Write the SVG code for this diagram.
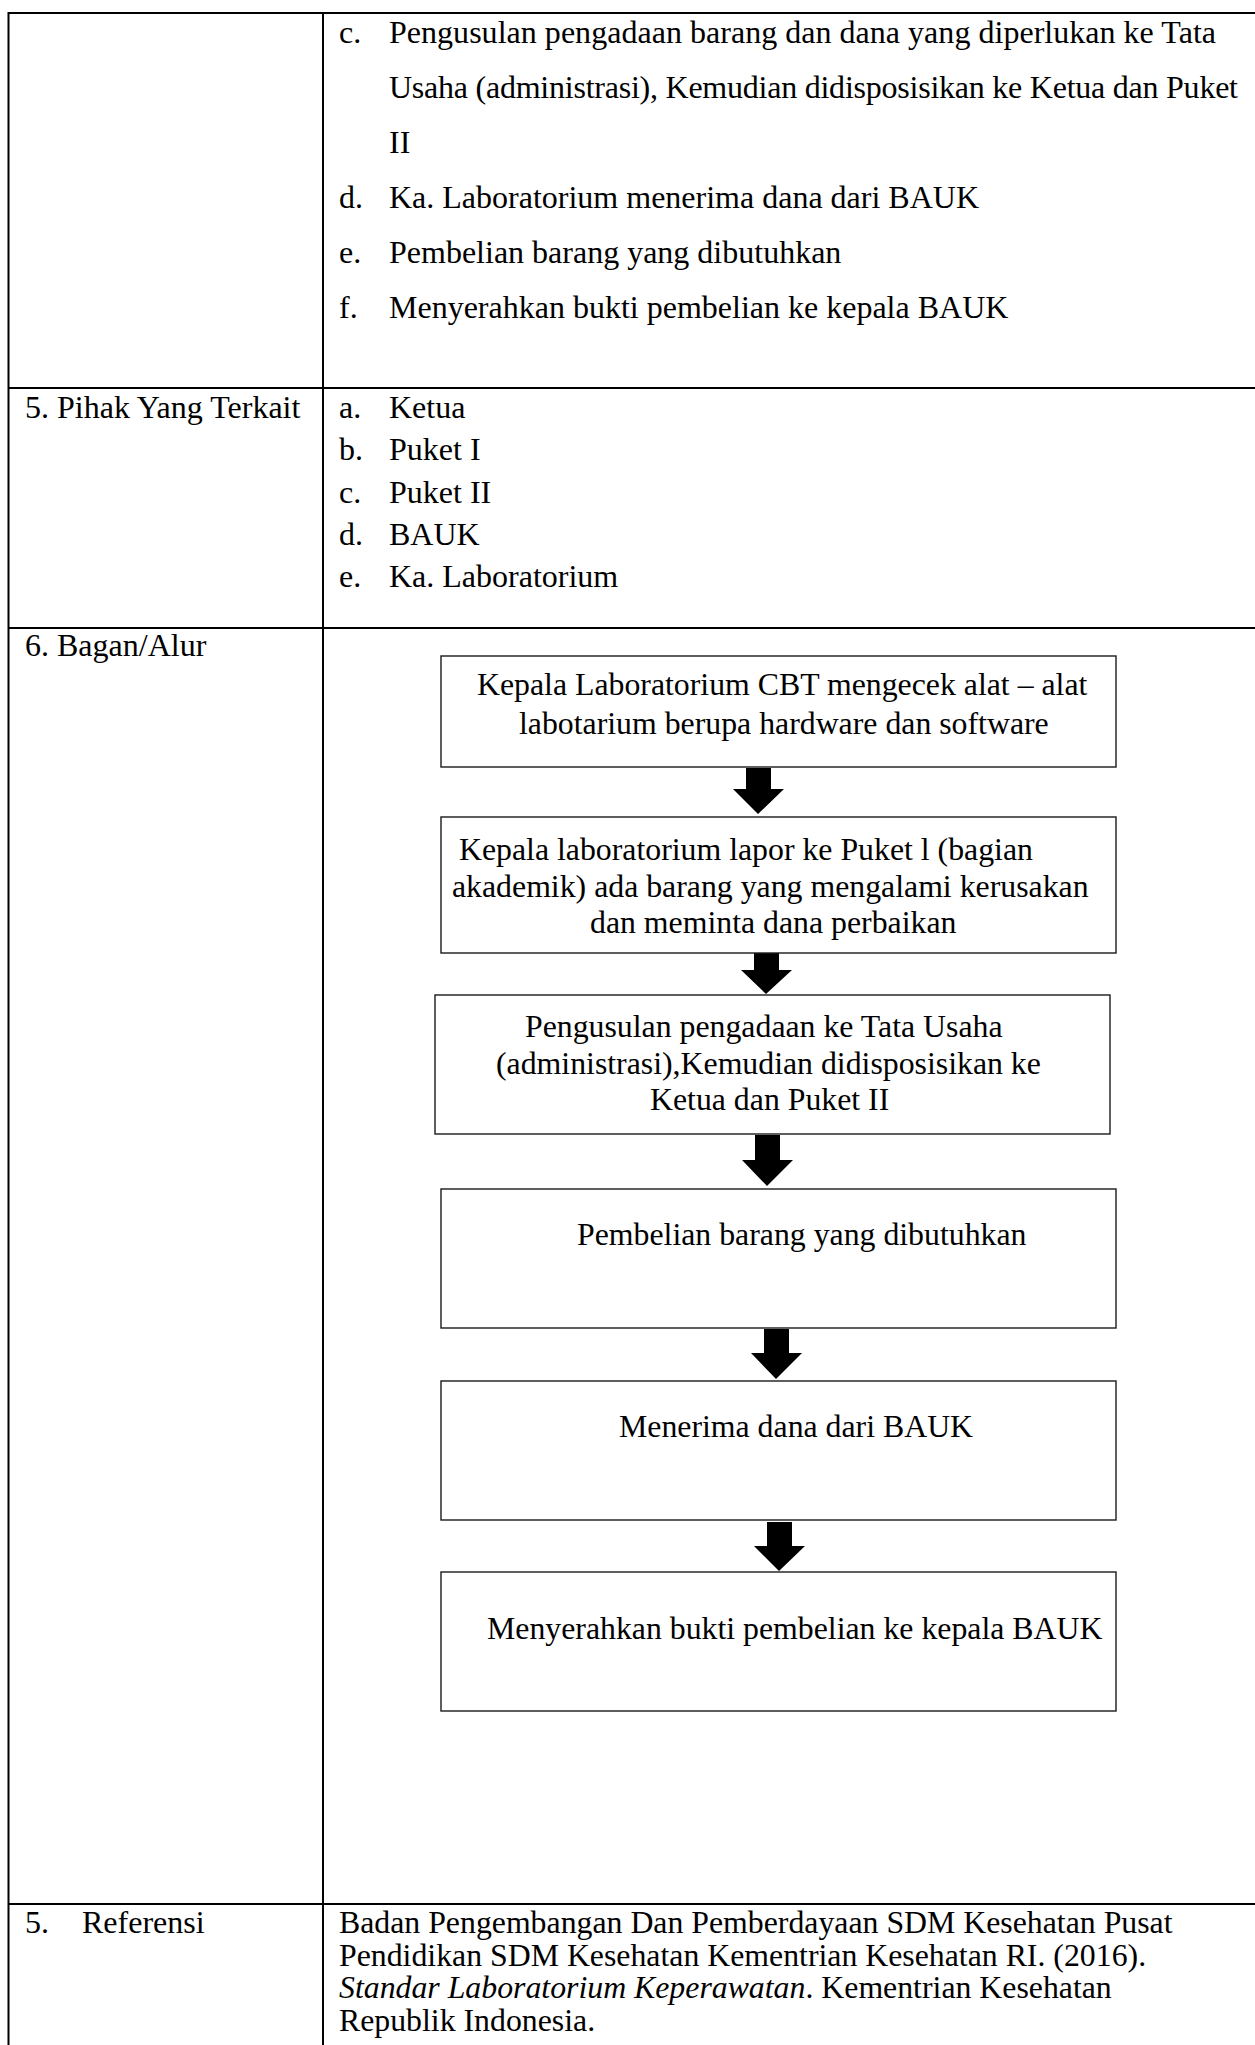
<svg xmlns="http://www.w3.org/2000/svg" width="1255" height="2045" viewBox="0 0 1255 2045">
<style>
  text { font-family: "Liberation Serif", "Times New Roman", serif; font-size: 31.8px; fill: #000; }
  .t { font-size: 32px; }
  .grid { stroke: #000; stroke-width: 2; fill: none; }
  .box { fill: #fff; stroke: #1a1a1a; stroke-width: 1.4; }
  .arrow { fill: #000; stroke: none; }
  .it { font-style: italic; }
</style>
<rect x="0" y="0" width="1255" height="2045" fill="#fff"/>

<g id="table">
  <line class="grid" x1="8.5" y1="13" x2="1255" y2="13"/>
  <line class="grid" x1="8.5" y1="12" x2="8.5" y2="2045"/>
  <line class="grid" x1="323" y1="12" x2="323" y2="2045"/>
  <line class="grid" x1="8.5" y1="388" x2="1255" y2="388"/>
  <line class="grid" x1="8.5" y1="628" x2="1255" y2="628"/>
  <line class="grid" x1="8.5" y1="1904" x2="1255" y2="1904"/>
</g>

<g id="row-prosedur">
  <text class="t" x="339" y="43">c.</text>
  <text class="t" x="389" y="43" textLength="827" lengthAdjust="spacing">Pengusulan pengadaan barang dan dana yang diperlukan ke Tata</text>
  <text class="t" x="389" y="98" textLength="849" lengthAdjust="spacing">Usaha (administrasi), Kemudian didisposisikan ke Ketua dan Puket</text>
  <text class="t" x="389" y="153">II</text>
  <text class="t" x="339" y="208">d.</text>
  <text class="t" x="389" y="208">Ka. Laboratorium menerima dana dari BAUK</text>
  <text class="t" x="339" y="263">e.</text>
  <text class="t" x="389" y="263">Pembelian barang yang dibutuhkan</text>
  <text class="t" x="339" y="318">f.</text>
  <text class="t" x="389" y="318">Menyerahkan bukti pembelian ke kepala BAUK</text>
</g>

<g id="row-pihak">
  <text class="t" x="25" y="418">5. Pihak Yang Terkait</text>
  <text class="t" x="339" y="418">a.</text>
  <text class="t" x="389" y="418">Ketua</text>
  <text class="t" x="339" y="460">b.</text>
  <text class="t" x="389" y="460">Puket I</text>
  <text class="t" x="339" y="503">c.</text>
  <text class="t" x="389" y="503">Puket II</text>
  <text class="t" x="339" y="545">d.</text>
  <text class="t" x="389" y="545">BAUK</text>
  <text class="t" x="339" y="587">e.</text>
  <text class="t" x="389" y="587">Ka. Laboratorium</text>
</g>

<g id="row-bagan">
  <text class="t" x="25" y="656">6. Bagan/Alur</text>
</g>

<g id="connectors">
  <path class="arrow" d="M746,768 h25 v21 h13 L758,814 L733,789 h13 z"/>
  <path class="arrow" d="M754,947 h25 v23 h13 L766,994 L741,970 h13 z"/>
  <path class="arrow" d="M755,1135 h25 v25 h13 L767,1186 L742,1160 h13 z"/>
  <path class="arrow" d="M764,1329 h25 v24 h13 L776,1379 L751,1353 h13 z"/>
  <path class="arrow" d="M767,1522 h25 v24 h13 L779,1571 L754,1546 h13 z"/>
</g>

<g id="node1">
  <rect class="box" x="441" y="656" width="675" height="111"/>
  <text x="477" y="695">Kepala Laboratorium CBT mengecek alat – alat</text>
  <text x="519" y="734">labotarium berupa hardware dan software</text>
</g>

<g id="node2">
  <rect class="box" x="441" y="817" width="675" height="136"/>
  <text x="459" y="860">Kepala laboratorium lapor ke Puket l (bagian</text>
  <text x="452" y="897">akademik) ada barang yang mengalami kerusakan</text>
  <text x="590" y="933">dan meminta dana perbaikan</text>
</g>

<g id="node3">
  <rect class="box" x="435" y="995" width="675" height="139"/>
  <text x="525" y="1037">Pengusulan pengadaan ke Tata Usaha</text>
  <text x="496" y="1074">(administrasi),Kemudian didisposisikan ke</text>
  <text x="650" y="1110">Ketua dan Puket II</text>
</g>

<g id="node4">
  <rect class="box" x="441" y="1189" width="675" height="139"/>
  <text x="577" y="1245">Pembelian barang yang dibutuhkan</text>
</g>

<g id="node5">
  <rect class="box" x="441" y="1381" width="675" height="139"/>
  <text x="619" y="1437">Menerima dana dari BAUK</text>
</g>

<g id="node6">
  <rect class="box" x="441" y="1572" width="675" height="139"/>
  <text x="487" y="1639">Menyerahkan bukti pembelian ke kepala BAUK</text>
</g>

<g id="row-referensi">
  <text class="t" x="25" y="1933">5.</text>
  <text class="t" x="82" y="1933">Referensi</text>
  <text x="339" y="1933">Badan Pengembangan Dan Pemberdayaan SDM Kesehatan Pusat</text>
  <text x="339" y="1966">Pendidikan SDM Kesehatan Kementrian Kesehatan RI. (2016).</text>
  <text x="339" y="1998"><tspan class="it">Standar Laboratorium Keperawatan</tspan>. Kementrian Kesehatan</text>
  <text x="339" y="2031">Republik Indonesia.</text>
</g>
</svg>
